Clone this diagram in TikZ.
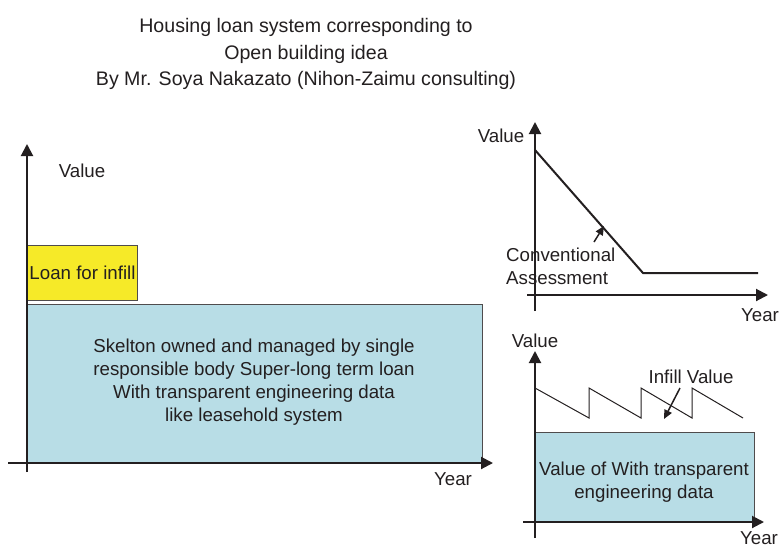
\documentclass[tikz,border=0pt]{standalone}
\usepackage{fontspec}
\setmainfont{Liberation Sans}
\usetikzlibrary{arrows.meta,positioning}
\definecolor{skelblue}{RGB}{184,221,230}
\definecolor{infillyellow}{RGB}{246,234,40}
\definecolor{inkgray}{RGB}{35,31,32}
\tikzset{
  axisline/.style={line width=2pt,-{Triangle[length=12pt,width=12pt]}},
  txt/.style={font=\fontsize{18.7}{23}\selectfont,inner sep=0pt,align=center,text=inkgray},
  valbox/.style={draw=inkgray!80,line width=1pt,fill=skelblue,anchor=north west},
  pointer/.style={line width=1.5pt,-{Triangle[length=9pt,width=8pt]}}
}
\begin{document}
\begin{tikzpicture}[x=1pt,y=-1pt,color=inkgray]
      \useasboundingbox (0,0) rectangle (782,547);

      % title
      \node[txt,font=\fontsize{19.6}{26.5}\selectfont] (title) at (306,54)
        {Housing loan system corresponding to\\Open building idea\\By Mr. Soya Nakazato (Nihon-Zaimu consulting)};

      % left chart
      \node[valbox,minimum width=455pt,minimum height=159pt] (skel) at (27,304) {};
      \node[txt] (skeltxt) at (254,382)
        {Skelton owned and managed by single\\responsible body Super-long term loan\\With transparent engineering data\\like leasehold system};
      \node[valbox,fill=infillyellow,minimum width=110pt,minimum height=55pt] (infill) at (27,245) {};
      \node[txt] (infilltxt) at (infill.center) {Loan for infill};

      \coordinate (lbot) at (27,472);
      \coordinate (ltop) at (27,144);
      \coordinate (lleft) at (8,463);
      \coordinate (lright) at (493,463);
      \draw[axisline] (lbot) -- (ltop);
      \draw[axisline] (lleft) -- (lright);
      \node[txt] (lvalue) at (82,171) {Value};
      \node[txt] (lyear) at (453,479) {Year};

      % top right chart
      \coordinate (tbot) at (535,311);
      \coordinate (ttop) at (535,122);
      \coordinate (tleft) at (527,295);
      \coordinate (tright) at (768,295);
      \draw[axisline] (tbot) -- (ttop);
      \draw[axisline] (tleft) -- (tright);
      \node[txt] (tvalue) at (501,136) {Value};
      \node[txt] (tyear) at (760,315) {Year};

      \draw[line width=2pt] (535,150) -- (643,273) -- (758,273);
      \node[txt,align=left,anchor=west] (conv) at (506,266) {Conventional\\Assessment};
      \coordinate (convtip) at (604,226);
      \draw[pointer] (594,242) -- (convtip);

      % bottom right chart
      \node[valbox,minimum width=219pt,minimum height=90pt] (transp) at (535,432) {};
      \node[txt] (transptxt) at (644,482) {Value of With transparent\\engineering data};

      \coordinate (bbot) at (535,538);
      \coordinate (btop) at (535,351);
      \coordinate (bleft) at (523,522);
      \coordinate (bright) at (764,522);
      \draw[axisline] (bbot) -- (btop);
      \draw[axisline] (bleft) -- (bright);
      \node[txt] (bvalue) at (535,341) {Value};
      \node[txt] (byear) at (759,538) {Year};

      \draw[line width=1pt] (535,388) -- (589,418) -- (589,388) -- (641,418) -- (641,388)
        -- (692,418) -- (692,388) -- (743,418);
      \node[txt] (infillval) at (691,377) {Infill Value};
      \coordinate (infilltip) at (664,419);
      \draw[pointer] (680,388) -- (infilltip);
\end{tikzpicture}
\end{document}
